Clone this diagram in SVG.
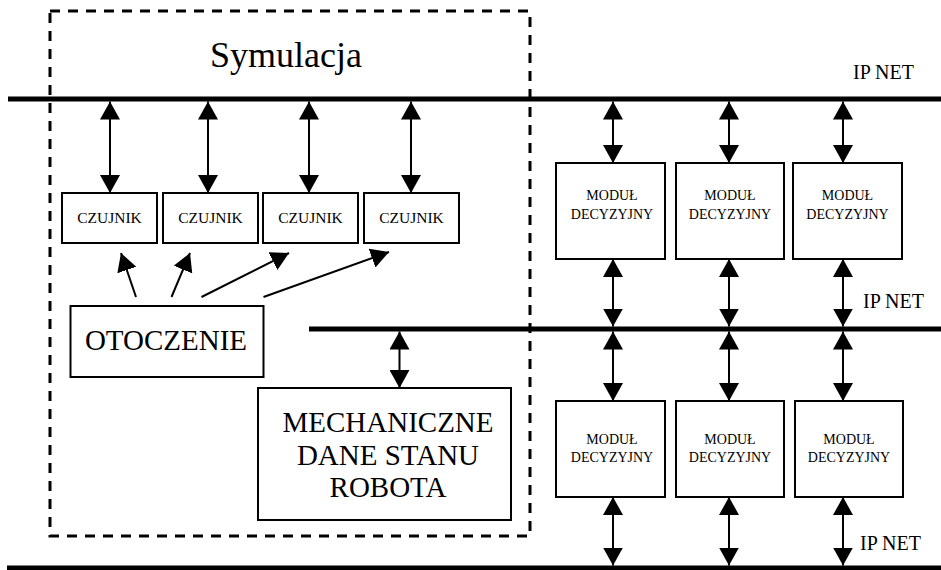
<svg xmlns="http://www.w3.org/2000/svg" width="941" height="570" viewBox="0 0 941 570" font-family="'Liberation Serif', 'Times New Roman', Times, serif">
<style>
text{fill:#000;text-anchor:middle}
.box{fill:#fff;stroke:#000;stroke-width:2}
.bus{stroke:#000;stroke-width:5;fill:none}
.arr{stroke:#000;stroke-width:2;fill:none;marker-start:url(#ah);marker-end:url(#ah)}
.one{stroke:#000;stroke-width:2;fill:none;marker-end:url(#ah)}
.s{font-size:15.5px}
.m{font-size:14px}
.l{font-size:29px}
.ip{font-size:20px;text-anchor:start}
</style>
<defs>
<marker id="ah" markerUnits="userSpaceOnUse" viewBox="0 0 18 20" refX="18" refY="10" markerWidth="18" markerHeight="20" orient="auto-start-reverse">
<path d="M0,0 L18,10 L0,20 Z" fill="#000"/>
</marker>
</defs>
<rect width="941" height="570" fill="#fff"/>
<g id="simulation">
<rect x="50" y="11" width="480" height="525" fill="none" stroke="#000" stroke-width="3" stroke-dasharray="10 8"/>
<text x="286" y="67" style="font-size:36px">Symulacja</text>
</g>
<g id="buses">
<line class="bus" x1="8" y1="99" x2="941" y2="99"/>
<line class="bus" x1="309" y1="329" x2="941" y2="329"/>
<line class="bus" x1="7" y1="568" x2="941" y2="568"/>
<text class="ip" x="853" y="79">IP NET</text>
<text class="ip" x="863" y="308">IP NET</text>
<text class="ip" x="860" y="550">IP NET</text>
</g>
<g id="connectors">
<line class="arr" x1="110" y1="101.5" x2="110" y2="193"/>
<line class="arr" x1="208" y1="101.5" x2="208" y2="193"/>
<line class="arr" x1="309" y1="101.5" x2="309" y2="193"/>
<line class="arr" x1="411" y1="101.5" x2="411" y2="193"/>
<line class="one" x1="136" y1="297" x2="121" y2="253"/>
<line class="one" x1="171.5" y1="297" x2="190" y2="253"/>
<line class="one" x1="201.5" y1="297" x2="289" y2="253"/>
<line class="one" x1="263.5" y1="297" x2="389" y2="252"/>
<line class="arr" x1="399.5" y1="331.5" x2="399.5" y2="388"/>
<line class="arr" x1="613" y1="101.5" x2="613" y2="163"/>
<line class="arr" x1="729" y1="101.5" x2="729" y2="163"/>
<line class="arr" x1="843" y1="101.5" x2="843" y2="163"/>
<line class="arr" x1="613" y1="259" x2="613" y2="326.5"/>
<line class="arr" x1="729" y1="259" x2="729" y2="326.5"/>
<line class="arr" x1="843" y1="259" x2="843" y2="326.5"/>
<line class="arr" x1="613" y1="331.5" x2="613" y2="401"/>
<line class="arr" x1="729" y1="331.5" x2="729" y2="401"/>
<line class="arr" x1="843" y1="331.5" x2="843" y2="401"/>
<line class="arr" x1="613" y1="497" x2="613" y2="565.5"/>
<line class="arr" x1="729" y1="497" x2="729" y2="565.5"/>
<line class="arr" x1="843" y1="497" x2="843" y2="565.5"/>
</g>
<g id="czujnik1"><rect class="box" x="62" y="193" width="95" height="50"/><text class="s" x="109.5" y="223">CZUJNIK</text></g>
<g id="czujnik2"><rect class="box" x="163" y="193" width="95" height="50"/><text class="s" x="210.5" y="223">CZUJNIK</text></g>
<g id="czujnik3"><rect class="box" x="263" y="193" width="95" height="50"/><text class="s" x="310.5" y="223">CZUJNIK</text></g>
<g id="czujnik4"><rect class="box" x="364" y="193" width="95" height="50"/><text class="s" x="411.5" y="223">CZUJNIK</text></g>
<g id="otoczenie"><rect class="box" x="70.5" y="306" width="193" height="71"/><text class="l" x="166" y="350">OTOCZENIE</text></g>
<g id="mechaniczne"><rect class="box" x="258" y="388" width="253" height="132"/>
<text class="l" x="388" y="432">MECHANICZNE</text><text class="l" x="388" y="465">DANE STANU</text><text class="l" x="388" y="497">ROBOTA</text></g>
<g id="modul1"><rect class="box" x="556" y="163" width="109" height="96"/><text class="m" x="612" y="200">MODUŁ</text><text class="m" x="612" y="219">DECYZYJNY</text></g>
<g id="modul2"><rect class="box" x="676" y="163" width="108" height="96"/><text class="m" x="730" y="200">MODUŁ</text><text class="m" x="730" y="219">DECYZYJNY</text></g>
<g id="modul3"><rect class="box" x="793" y="163" width="109" height="96"/><text class="m" x="847.5" y="200">MODUŁ</text><text class="m" x="847.5" y="219">DECYZYJNY</text></g>
<g id="modul4"><rect class="box" x="556" y="401" width="109" height="96"/><text class="m" x="612" y="444">MODUŁ</text><text class="m" x="612" y="462">DECYZYJNY</text></g>
<g id="modul5"><rect class="box" x="676" y="401" width="108" height="96"/><text class="m" x="730" y="444">MODUŁ</text><text class="m" x="730" y="462">DECYZYJNY</text></g>
<g id="modul6"><rect class="box" x="795" y="401" width="108" height="96"/><text class="m" x="849" y="444">MODUŁ</text><text class="m" x="849" y="462">DECYZYJNY</text></g>
</svg>
